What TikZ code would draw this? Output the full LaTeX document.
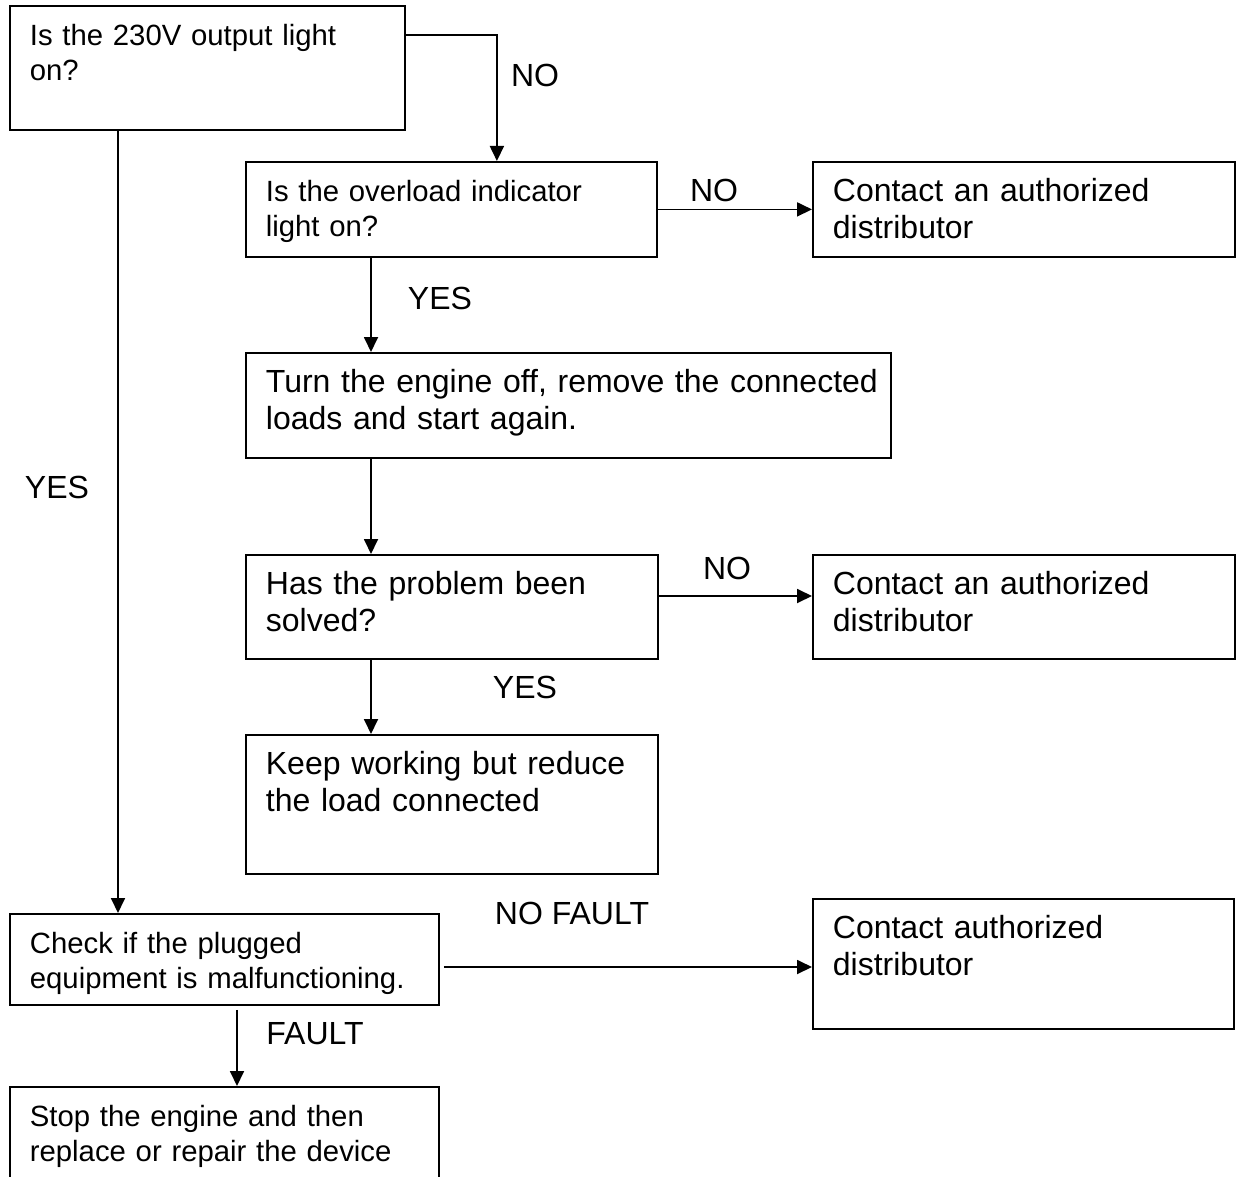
\documentclass[tikz,border=0pt]{standalone}
\usepackage{fontspec}
\setmainfont{Liberation Sans}
\usetikzlibrary{arrows.meta}
\newcommand{\smallboxfont}{\fontsize{29.3}{35}\selectfont}
\newcommand{\bigboxfont}{\fontsize{32}{37}\selectfont}
\tikzset{
  flowbox/.style={draw, line width=1.8pt, anchor=north west, align=left,
                  inner xsep=20pt, inner ysep=18pt, text height=22pt},
  smallbox/.style={flowbox, font=\smallboxfont},
  bigbox/.style={flowbox, font=\bigboxfont},
  answer/.style={font=\bigboxfont, inner sep=0pt},
  arrowline/.style={line width=1.8pt, -{Triangle[length=15pt, width=14pt]}}
}
\begin{document}
\begin{tikzpicture}[x=1pt, y=-1pt]
  \useasboundingbox (0,0) rectangle (1236,1177);
  \clip (0,0) rectangle (1236,1177);

  \node[smallbox, text width=355pt, text depth=66pt] (nA) at (9,5)
    {Is the 230V output light\\on?};
  \node[smallbox, text width=371pt, text depth=37pt] (nB) at (245,161)
    {Is the overload indicator\\light on?};
  \node[bigbox, text width=382pt, text depth=37pt] (nC) at (812,161)
    {Contact an authorized\\distributor};
  \node[bigbox, text width=605pt, text depth=47pt] (nD) at (245,352)
    {\mbox{Turn the engine off, remove the connected}\\loads and start again.};
  \node[bigbox, text width=372pt, text depth=46pt] (nE) at (245,554)
    {Has the problem been\\solved?};
  \node[bigbox, text width=382pt, text depth=46pt] (nF) at (812,554)
    {Contact an authorized\\distributor};
  \node[bigbox, text width=372pt, text depth=81pt] (nG) at (245,734)
    {Keep working but reduce\\the load connected};
  \node[smallbox, text width=389pt, text depth=33pt] (nH) at (9,913)
    {Check if the plugged\\equipment is malfunctioning.};
  \node[bigbox, text width=381pt, text depth=72pt] (nI) at (812,898)
    {Contact authorized\\distributor};
  \node[smallbox, text width=389pt, text depth=62pt] (nJ) at (9,1086)
    {Stop the engine and then\\replace or repair the device};

  \node[answer] (lA) at (535,75) {NO};
  \node[answer] (lB) at (714,190) {NO};
  \node[answer] (lC) at (440,298) {YES};
  \node[answer] (lD) at (57,487) {YES};
  \node[answer] (lE) at (727,568) {NO};
  \node[answer] (lF) at (525,687) {YES};
  \node[answer] (lG) at (572,913) {NO FAULT};
  \node[answer] (lH) at (315,1034) {FAULT};

  \draw[arrowline] ([yshift=-30pt]nA.north east) -| ([xshift=45.5pt]nB.north);
  \draw[arrowline] ([xshift=109pt]nA.south west) -- ([xshift=109pt]nH.north west);
  \draw[arrowline] (nB.east) -- (nC.west);
  \draw[arrowline] ([xshift=126pt]nB.south west) -- ([xshift=126pt]nD.north west);
  \draw[arrowline] ([xshift=126pt]nD.south west) -- ([xshift=126pt]nE.north west);
  \draw[arrowline] ([yshift=-42pt]nE.north east) -- ([yshift=-42pt]nF.north west);
  \draw[arrowline] ([xshift=126pt]nE.south west) -- ([xshift=126pt]nG.north west);
  \draw[arrowline] ([xshift=4pt, yshift=-54pt]nH.north east) -- ([yshift=-69pt]nI.north west);
  \draw[arrowline] ([xshift=228pt, yshift=-4pt]nH.south west) -- ([xshift=228pt]nJ.north west);
\end{tikzpicture}
\end{document}
